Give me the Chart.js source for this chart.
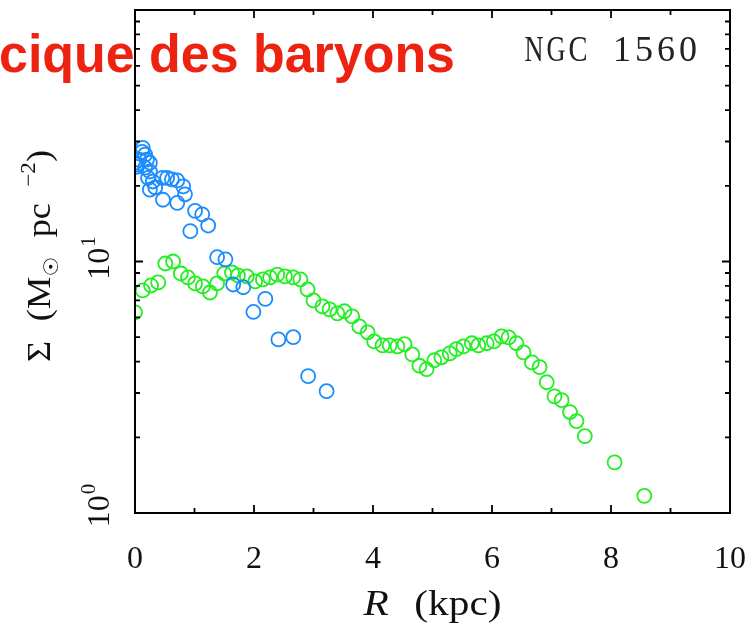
<!DOCTYPE html>
<html>
<head>
<meta charset="utf-8">
<script src="https://cdn.jsdelivr.net/npm/chart.js@4/dist/chart.umd.min.js"></script>
<style>
  html, body { margin: 0; padding: 0; background: #fff; }
  #wrap { width: 754px; height: 631px; }
</style>
</head>
<body>
<div id="wrap"><canvas id="sigmaChart" width="754" height="631"></canvas></div>
<script>
// surface density profiles, NGC 1560
var galaxyName = "NGC 1560";
var headline = "cique des baryons";

// stars (blue): radius in kpc, surface density in Msun/pc^2
var starR = [0.00, 0.02, 0.03, 0.07, 0.13, 0.12, 0.17, 0.20, 0.25, 0.17, 0.25, 0.22, 0.30, 0.34, 0.25,
    0.46, 0.54, 0.62, 0.71, 0.81, 0.47, 0.71, 0.84, 1.01, 1.13, 1.23, 0.93,
    1.38, 1.52, 1.65, 1.82, 1.99, 2.19, 2.41, 2.66, 2.91, 3.22];
var starSigma = [24.7, 23.8, 24.3, 25.4, 28.3, 27.3, 26.6, 25.4, 24.7, 23.6, 22.8, 21.5, 20.8, 19.7, 19.3,
    21.5, 21.5, 21.2, 21.0, 19.9, 17.6, 17.1, 18.5, 15.9, 15.4, 13.9, 13.2,
    10.4, 10.2, 8.1, 7.9, 6.3, 7.1, 4.9, 5.0, 3.5, 3.05];

// gas (green)
var gasR = [0.00, 0.13, 0.27, 0.39, 0.51, 0.64, 0.77, 0.89, 1.01, 1.14, 1.26, 1.38, 1.50, 1.63, 1.73,
    1.88, 2.02, 2.15, 2.27, 2.39, 2.52, 2.66, 2.78, 2.90, 3.00, 3.15, 3.27, 3.40, 3.52, 3.65,
    3.77, 3.91, 4.02, 4.16, 4.28, 4.41, 4.53, 4.66, 4.78, 4.90, 5.03, 5.15, 5.29, 5.40, 5.52,
    5.66, 5.77, 5.91, 6.03, 6.16, 6.28, 6.41, 6.53, 6.67, 6.80, 6.92, 7.05, 7.17, 7.31, 7.42,
    7.56, 8.06, 8.56];
var gasSigma = [6.28, 7.67, 8.03, 8.26, 9.82, 10.0, 8.96, 8.64, 8.18, 7.96, 7.53, 8.18, 8.96, 9.04, 8.80,
    8.72, 8.33, 8.49, 8.64, 8.87, 8.72, 8.64, 8.49, 7.74, 7.00, 6.63, 6.45, 6.22, 6.34, 6.05,
    5.52, 5.23, 4.81, 4.64, 4.64, 4.60, 4.69, 4.27, 3.85, 3.73, 4.05, 4.16, 4.31, 4.48, 4.60,
    4.73, 4.64, 4.73, 4.81, 5.04, 4.99, 4.73, 4.35, 3.97, 3.80, 3.31, 2.91, 2.81, 2.52, 2.32,
    2.02, 1.59, 1.17];

// axes
var xMajor = [0, 2, 4, 6, 8, 10];
var xMinor = [1, 3, 5, 7, 9];
var yMajor = [1, 10, 100];
var yMajorExp = ["0", "1", "2"];
var yMinor = [2, 3, 4, 5, 6, 7, 8, 9, 20, 30, 40, 50, 60, 70, 80, 90];

function toPoints(xs, ys) {
    return xs.map(function (x, i) { return { x: x, y: ys[i] }; });
}

var serif = "'Liberation Serif', 'DejaVu Serif', serif";

// lays text pieces out char by char, slightly widened (sx), with any width left over
// going into the word gaps so the whole run spans `width`
function drawPieces(ctx, parts, cx, y, width, sx) {
    var chars = [];
    var total = 0, spaces = 0;
    parts.forEach(function (p) {
        ctx.font = p.f;
        Array.from(p.t).forEach(function (c) {
            var w = ctx.measureText(c).width * sx;
            chars.push({ c: c, f: p.f, dy: p.dy, w: w });
            total += w;
            if (c === " ") spaces++;
        });
    });
    var extra = spaces ? Math.max(0, (width - total) / spaces) : 0;
    var px = cx - (total + extra * spaces) / 2;
    ctx.textAlign = "left";
    chars.forEach(function (ch) {
        if (ch.c === " ") { px += ch.w + extra; return; }
        ctx.save();
        ctx.translate(px, y + ch.dy);
        ctx.scale(sx, 1);
        ctx.font = ch.f;
        ctx.fillText(ch.c, 0, 0);
        ctx.restore();
        px += ch.w;
    });
}

var framePlugin = {
    id: "frame",
    afterDraw: function (chart) {
        var ctx = chart.ctx;
        var a = chart.chartArea;
        var xs = chart.scales.x, ys = chart.scales.y;
        ctx.save();
        ctx.strokeStyle = "#000";
        ctx.lineWidth = 2;
        ctx.strokeRect(a.left, a.top, a.right - a.left, a.bottom - a.top);

        // inward ticks on all four sides
        ctx.lineWidth = 1.8;
        function xTick(v, len) {
            var px = xs.getPixelForValue(v);
            ctx.beginPath();
            ctx.moveTo(px, a.bottom); ctx.lineTo(px, a.bottom - len);
            ctx.moveTo(px, a.top); ctx.lineTo(px, a.top + len);
            ctx.stroke();
        }
        function yTick(v, len) {
            var py = ys.getPixelForValue(v);
            ctx.beginPath();
            ctx.moveTo(a.left, py); ctx.lineTo(a.left + len, py);
            ctx.moveTo(a.right, py); ctx.lineTo(a.right - len, py);
            ctx.stroke();
        }
        xMajor.forEach(function (v) { xTick(v, 8); });
        xMinor.forEach(function (v) { xTick(v, 5); });
        yMajor.forEach(function (v) { yTick(v, 8); });
        yMinor.forEach(function (v) { yTick(v, 5); });

        // x tick labels
        ctx.fillStyle = "#111";
        ctx.font = "32px " + serif;
        ctx.textAlign = "center";
        ctx.textBaseline = "alphabetic";
        xMajor.forEach(function (v) {
            ctx.fillText(String(v), xs.getPixelForValue(v), 568);
        });

        // y tick labels, rotated, as powers of ten
        yMajor.slice(0, 2).forEach(function (v, i) {
            var py = ys.getPixelForValue(v) - (i === 0 ? 7 : 3);
            ctx.save();
            ctx.translate(109, py);
            ctx.rotate(-Math.PI / 2);
            ctx.font = "32px " + serif;
            var wBase = ctx.measureText("10").width;
            ctx.font = "21px " + serif;
            var wExp = ctx.measureText(yMajorExp[i]).width;
            var x0 = -(wBase + wExp) / 2;
            ctx.textAlign = "left";
            ctx.font = "32px " + serif;
            ctx.fillText("10", x0, 0);
            ctx.font = "21px " + serif;
            ctx.fillText(yMajorExp[i], x0 + wBase + 1, -14);
            ctx.restore();
        });

        // x axis title
        drawPieces(ctx, [
            { t: "R", f: "italic 35px " + serif, dy: 0 },
            { t: " (kpc)", f: "35px " + serif, dy: 0 }
        ], (a.left + a.right) / 2, 615, 138, 1.18);

        // y axis title
        ctx.save();
        ctx.translate(50, 256);
        ctx.rotate(-Math.PI / 2);
        drawPieces(ctx, [
            { t: "\u03A3 (M", f: "33px " + serif, dy: 0 },
            { t: "\u2609", f: "20px 'DejaVu Sans', " + serif, dy: 8 },
            { t: " pc", f: "33px " + serif, dy: 0 },
            { t: " ", f: "21px " + serif, dy: 0 },
            { t: "\u22122", f: "21px " + serif, dy: -15 },
            { t: ")", f: "33px " + serif, dy: 0 }
        ], 0, 0, 212, 1.1);
        ctx.restore();

        // galaxy name, typewriter spacing with narrowed glyphs
        ctx.font = "36px " + serif;
        ctx.textAlign = "center";
        ctx.fillStyle = "#222";
        for (var i = 0; i < galaxyName.length; i++) {
            var g = galaxyName[i];
            var gw = ctx.measureText(g).width;
            var k = Math.min(1, 19 / Math.max(gw, 1));
            ctx.save();
            ctx.translate(534 + i * 22, 61);
            ctx.scale(k, 1);
            ctx.fillText(g, 0, 0);
            ctx.restore();
        }

        // red headline, squeezed to a condensed width
        ctx.font = "bold 54px 'Liberation Sans Narrow', 'Liberation Sans', Arial, sans-serif";
        ctx.textAlign = "left";
        var hw = ctx.measureText(headline).width;
        ctx.save();
        ctx.translate(-1, 72);
        ctx.scale(456 / hw, 1);
        ctx.fillStyle = "#ee2210";
        ctx.fillText(headline, 0, 0);
        ctx.restore();
        ctx.restore();
    }
};

var sigmaChart = new Chart(document.getElementById("sigmaChart"), {
    type: "scatter",
    data: {
        datasets: [{
            label: "stars",
            data: toPoints(starR, starSigma),
            borderColor: "#1a8cff",
            backgroundColor: "rgba(0,0,0,0)",
            borderWidth: 1.8,
            pointRadius: 7,
            pointStyle: "circle"
        }, {
            label: "gas",
            data: toPoints(gasR, gasSigma),
            borderColor: "#22ee22",
            backgroundColor: "rgba(0,0,0,0)",
            borderWidth: 1.8,
            pointRadius: 7,
            pointStyle: "circle"
        }]
    },
    options: {
        responsive: false,
        animation: false,
        events: [],
        layout: { padding: { left: 135, right: 24, top: 10, bottom: 118 } },
        plugins: { legend: { display: false }, tooltip: { enabled: false } },
        scales: {
            x: {
                type: "linear", min: 0, max: 10,
                ticks: { display: false },
                grid: { display: false },
                border: { display: false },
                afterFit: function (s) { s.height = 0; }
            },
            y: {
                type: "logarithmic", min: 1, max: 100,
                ticks: { display: false },
                grid: { display: false },
                border: { display: false },
                afterFit: function (s) { s.width = 0; }
            }
        }
    },
    plugins: [framePlugin]
});
</script>
</body>
</html>
